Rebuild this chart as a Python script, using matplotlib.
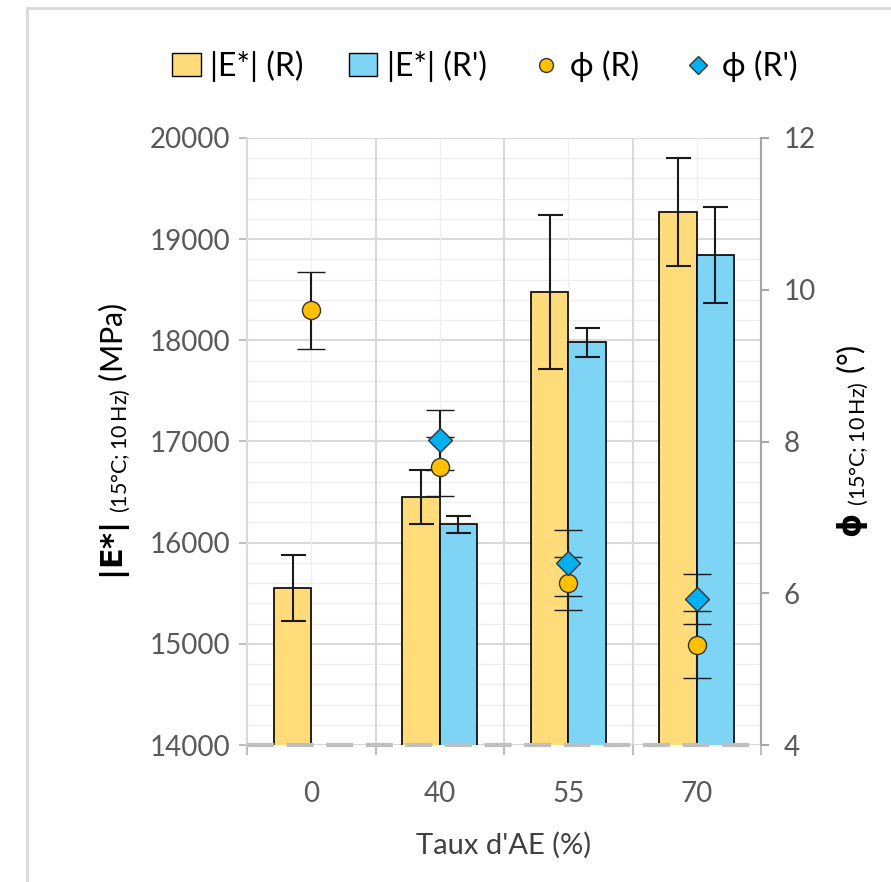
import numpy as np
import matplotlib.pyplot as plt
from matplotlib.lines import Line2D
from matplotlib.patches import Patch, Rectangle

# Data
categories = ['0', '40', '55', '70']
modulus_r = [15550, 16450, 18480, 19270]
modulus_r_err = [325, 270, 760, 535]
modulus_rp = [np.nan, 16180, 17980, 18840]
modulus_rp_err = [np.nan, 80, 143, 475]
phase_r = [9.73, 7.67, 6.13, 5.32]
phase_r_err = [0.51, 0.39, 0.35, 0.44]
phase_rp = [np.nan, 8.02, 6.40, 5.93]
phase_rp_err = [np.nan, 0.40, 0.43, 0.33]

yellow = '#FFDB79'
blue = '#7DD4F5'
gold = '#FFC000'
cyan = '#00B0F0'
tick_color = '#595959'

plt.rcParams['font.family'] = ['Lato', 'DejaVu Sans']
plt.rcParams['mathtext.default'] = 'regular'

fig = plt.figure(figsize=(8.91, 8.82), dpi=100)
ax = fig.add_axes([247 / 891, 1 - 745 / 882, 514 / 891, 607 / 882])

# outer chart frame
fig.patches.append(Rectangle((27 / 891, -0.05), 1.1, 1 - 8 / 882 + 0.05,
                             transform=fig.transFigure, fill=False,
                             ec='#D9D9D9', lw=2))

x = np.arange(len(categories))
w = 0.29

# grid
for v in np.arange(14000, 20001, 200):
    major = v % 1000 == 0
    ax.axhline(v, color='#D9D9D9' if major else '#EFEFEF', lw=1.5 if major else 1, zorder=0)
for b in np.arange(-0.5, 3.6, 1):
    ax.axvline(b, color='#D9D9D9', lw=1.5, zorder=0)
for c in x:
    ax.axvline(c, color='#EFEFEF', lw=1, zorder=0)

ax.bar(x - w / 2, modulus_r, w, color=yellow, edgecolor='black', lw=1.2, zorder=2)
ax.bar(x + w / 2, modulus_rp, w, color=blue, edgecolor='black', lw=1.2, zorder=2)
ax.errorbar(x - w / 2, modulus_r, yerr=modulus_r_err, fmt='none', ecolor='#1a1a1a',
            elinewidth=1.5, capsize=9, capthick=1.5, zorder=3)
ax.errorbar(x + w / 2, modulus_rp, yerr=modulus_rp_err, fmt='none', ecolor='#1a1a1a',
            elinewidth=1.5, capsize=9, capthick=1.5, zorder=3)

ax.set_xlim(-0.5, 3.5)
ax.set_ylim(14000, 20000)
ax.set_yticks(np.arange(14000, 20001, 1000))
ax.set_xticks(x)
ax.set_xticklabels(categories)
ax.set_xticks(np.arange(-0.5, 3.6, 1), minor=True)
ax.tick_params(axis='x', which='major', length=0, pad=26, labelsize=20, labelcolor=tick_color)
ax.tick_params(axis='x', which='minor', length=7, width=1.5, color='#BFBFBF')
ax.tick_params(axis='y', length=6, width=1.5, color='#BFBFBF', labelsize=20,
               labelcolor=tick_color, pad=6)
for s in ['top', 'right', 'bottom']:
    ax.spines[s].set_visible(False)
ax.spines['left'].set_color('#D9D9D9')
ax.spines['left'].set_linewidth(1.5)

# dashed base line
ax.axhline(14000, color='#BFBFBF', lw=3, ls=(0, (6.5, 3)), zorder=5, clip_on=False)

ax.set_xlabel("Taux d'AE (%)", fontsize=21, color='#404040', labelpad=18)
ax.set_ylabel(r'$\mathbf{|E{*}|}$ $_{(15°C;10\,Hz)}$ (MPa)', fontsize=22, color='black',
              labelpad=12)

# phase angle on secondary axis
ax2 = ax.twinx()
ax2.set_ylim(4, 12)
ax2.set_yticks([4, 6, 8, 10, 12])
ax2.errorbar(x, phase_r, yerr=phase_r_err, fmt='o', color=gold, mec='#333333', mew=1,
             ms=13, ecolor='#1a1a1a', elinewidth=1.5, capsize=10, capthick=1.5, zorder=4)
ax2.errorbar(x, phase_rp, yerr=phase_rp_err, fmt='D', color=cyan, mec='#333333', mew=1,
             ms=12, ecolor='#1a1a1a', elinewidth=1.5, capsize=10, capthick=1.5, zorder=4)
for s in ['top', 'left', 'bottom']:
    ax2.spines[s].set_visible(False)
ax2.spines['right'].set_color('#A6A6A6')
ax2.spines['right'].set_linewidth(1.5)
ax2.tick_params(axis='y', length=6, width=1.5, color='#A6A6A6', labelsize=20,
                labelcolor=tick_color, pad=10)
ax2.set_ylabel(r'$\mathbf{ϕ}$ $_{(15°C;10\,Hz)}$ (°)', fontsize=22, rotation=90, labelpad=14)

handles = [
    Patch(facecolor=yellow, edgecolor='black', label='|E*| (R)'),
    Patch(facecolor=blue, edgecolor='black', label="|E*| (R')"),
    Line2D([], [], ls='none', marker='o', color=gold, mec='#333333', ms=10, label='ϕ (R)'),
    Line2D([], [], ls='none', marker='D', color=cyan, mec='#333333', ms=9, label="ϕ (R')"),
]
fig.legend(handles=handles, loc='center', bbox_to_anchor=(485 / 891, 1 - 66 / 882), ncol=4,
           frameon=False, handlelength=0.9, handletextpad=0.3, columnspacing=1.4,
           prop={'family': ['Lato', 'DejaVu Sans'], 'size': 23})

fig.savefig('out.png', dpi=100)
